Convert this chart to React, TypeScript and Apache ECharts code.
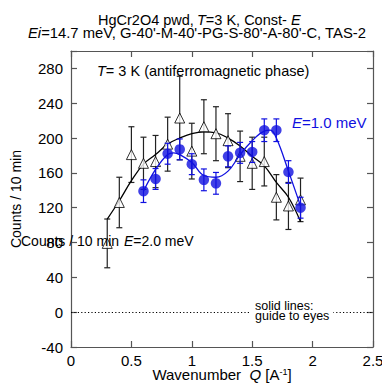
import React, { useEffect, useRef } from "react";
import * as echarts from "echarts";

// ---- data ----
const triQ = [0.3, 0.4, 0.5, 0.6, 0.7, 0.8, 0.9, 1.0, 1.1, 1.2, 1.3, 1.4, 1.5, 1.6, 1.7, 1.8, 1.9];
const triCounts = [79, 126, 181, 171, 173, 193, 223, 185, 213, 205, 197, 179, 171, 173, 132, 122, 129];
const triErrors = [28, 29, 32, 30, 30, 31, 48, 32, 31, 31, 31, 29, 30, 28, 26, 27, 25];

const circQ = [0.6, 0.7, 0.8, 0.9, 1.0, 1.1, 1.2, 1.3, 1.4, 1.5, 1.6, 1.7, 1.8, 1.9];
const circCounts = [139, 153, 182, 187, 170, 152, 148, 179, 183, 184, 209, 209, 161, 120];
const circErrors = [13, 12, 12, 12, 12, 12.5, 12.5, 12, 12, 12, 13, 13, 13, 12];

const guide2Q = [0.3, 0.4, 0.5, 0.6, 0.7, 0.8, 0.9, 1.0, 1.1, 1.2, 1.3, 1.4, 1.5, 1.6, 1.7, 1.8, 1.9];
const guide2Counts = [107, 128, 151, 170, 181, 193, 200, 205, 207, 206, 200, 191, 179, 168, 149, 132, 104];

const guide1Q = [0.6, 0.7, 0.8, 0.85, 0.9, 1.0, 1.1, 1.2, 1.3, 1.4, 1.5, 1.6, 1.65, 1.7, 1.8, 1.9];
const guide1Counts = [139, 164, 181, 183, 181, 172, 157, 155, 162, 181, 197, 208, 209, 200, 162, 122];

const xMin = 0, xMax = 2.5, xInterval = 0.5;
const yMin = -40, yMax = 300, yInterval = 40;

const FONT = "'Liberation Sans', Arial, Helvetica, sans-serif";
const BLUE = "#1010e0";
const AXIS = "#555";

function errorBars(q: number[], v: number[], e: number[], color: string, z: number) {
  return {
    type: "custom",
    z,
    silent: true,
    clip: false,
    encode: { x: 0, y: 1 },
    data: q.map((x, i) => [x, v[i], e[i]]),
    renderItem: (_p: any, api: any) => {
      const x = api.value(0), y = api.value(1), err = api.value(2);
      const top = api.coord([x, y + err]);
      const bot = api.coord([x, y - err]);
      const w = 3;
      const style = { stroke: color, lineWidth: 1.2, fill: null };
      return {
        type: "group",
        children: [
          { type: "line", shape: { x1: top[0], y1: top[1], x2: bot[0], y2: bot[1] }, style },
          { type: "line", shape: { x1: top[0] - w, y1: top[1], x2: top[0] + w, y2: top[1] }, style },
          { type: "line", shape: { x1: bot[0] - w, y1: bot[1], x2: bot[0] + w, y2: bot[1] }, style },
        ],
      };
    },
  };
}

function richText(x: number, y: number, text: string, color: string, size = 14) {
  return {
    type: "text", x, y, z: 100,
    style: {
      text,
      align: "left", verticalAlign: "middle",
      rich: {
        n: { fontSize: size, fontFamily: FONT, fill: color },
        i: { fontSize: size, fontFamily: FONT, fontStyle: "italic", fill: color },
      },
    },
  };
}

export default function App() {
  const ref = useRef<HTMLDivElement>(null);
  useEffect(() => {
    document.body.style.margin = "0";
    if (!ref.current) return;
    const chart = echarts.init(ref.current, null, { renderer: "svg" });
    const axisCommon = {
      axisLine: { show: true, onZero: false, lineStyle: { color: AXIS, width: 1.2 } },
      axisTick: { show: true, inside: true, length: 6, lineStyle: { color: AXIS, width: 1.2 } },
      splitLine: { show: false },
    };
    const labelStyle = { color: "#000", fontSize: 15, fontFamily: FONT };
    chart.setOption({
      animation: false,
      backgroundColor: "#fff",
      grid: { left: 71, right: 9, top: 51, bottom: 38, containLabel: false, outerBoundsMode: "none" },
      xAxis: [
        {
          type: "value", min: xMin, max: xMax, interval: xInterval, position: "bottom",
          ...axisCommon,
          axisLabel: { ...labelStyle, margin: 6 },
          name: "{n|Wavenumber  }{i|Q}{n| [A}{s|-1}{n|]}",
          nameLocation: "middle",
          nameGap: 20,
          nameMoveOverlap: false,
          nameTextStyle: {
            ...labelStyle,
            rich: {
              n: { fontSize: 15, fontFamily: FONT, color: "#000" },
              i: { fontSize: 15, fontFamily: FONT, fontStyle: "italic", color: "#000" },
              s: { fontSize: 9, fontFamily: FONT, color: "#000", verticalAlign: "top" },
            },
          },
        },
        {
          type: "value", min: xMin, max: xMax, interval: xInterval, position: "top",
          ...axisCommon, axisLabel: { show: false },
        },
      ],
      yAxis: [
        {
          type: "value", min: yMin, max: yMax, interval: yInterval, position: "left",
          ...axisCommon,
          axisLabel: {
            ...labelStyle, margin: 8,
            formatter: (v: number) => ((v - yMin) % yInterval === 0 ? String(v) : ""),
          },
          name: "Counts / 10 min",
          nameLocation: "middle",
          nameGap: 48,
          nameMoveOverlap: false,
          nameTextStyle: { ...labelStyle, fontSize: 14 },
        },
        {
          type: "value", min: yMin, max: yMax, interval: yInterval, position: "right",
          ...axisCommon, axisLabel: { show: false },
        },
      ],
      series: [
        {
          type: "line",
          data: [],
          z: 1,
          markLine: {
            silent: true,
            symbol: "none",
            label: { show: false },
            lineStyle: { color: "#000", width: 1.2, type: [1.2, 2.2] },
            data: [{ yAxis: 0 }],
          },
        },
        errorBars(triQ, triCounts, triErrors, "#222", 2),
        {
          type: "line", z: 3, smooth: 0.4, showSymbol: false, silent: true,
          data: guide2Q.map((q, i) => [q, guide2Counts[i]]),
          lineStyle: { color: "#000", width: 1.3 },
        },
        {
          type: "scatter", z: 4, symbol: "triangle", symbolSize: 10, silent: true,
          data: triQ.map((q, i) => [q, triCounts[i]]),
          itemStyle: { color: "#fff", borderColor: "#000", borderWidth: 1 },
        },
        errorBars(circQ, circCounts, circErrors, BLUE, 5),
        {
          type: "line", z: 6, smooth: 0.4, showSymbol: false, silent: true,
          data: guide1Q.map((q, i) => [q, guide1Counts[i]]),
          lineStyle: { color: BLUE, width: 1.3 },
        },
        {
          type: "scatter", z: 7, symbol: "circle", symbolSize: 10.5, silent: true,
          data: circQ.map((q, i) => [q, circCounts[i]]),
          itemStyle: { color: BLUE },
        },
      ],
      graphic: [
        richText(98, 20, "{n|HgCr2O4 pwd,}", "#000", 14.5),
        richText(197, 20, "{i|T}{n|=3 K, Const- }{i|E}", "#000", 14.5),
        richText(28, 33, "{i|Ei}{n|=14.7 meV, G-40'-M-40'-PG-S-80'-A-80'-C, TAS-2}", "#000", 14.8),
        richText(97, 71, "{i|T}{n|= 3 K (antiferromagnetic phase)}", "#000", 14.5),
        richText(292, 122, "{i|E}{n|=1.0 meV}", BLUE, 15),
        {
          type: "text", x: 21, y: 241, z: 90,
          style: {
            text: "Counts / 10 min",
            align: "left", verticalAlign: "middle",
            fontSize: 14, fontFamily: FONT, fill: "#000",
          },
        },
        richText(124, 241, "{i|E}{n|=2.0 meV}", "#000"),
        {
          type: "text", x: 249, y: 311, z: 100,
          style: {
            text: "solid lines:\nguide to eyes",
            align: "left", verticalAlign: "middle",
            fontSize: 12.5, lineHeight: 10.5, fontFamily: FONT, fill: "#000",
            backgroundColor: "#fff", padding: [1, 4, 1, 6],
          },
        },
      ],
    });
    return () => chart.dispose();
  }, []);
  return <div ref={ref} style={{ width: 382, height: 385 }} />;
}
